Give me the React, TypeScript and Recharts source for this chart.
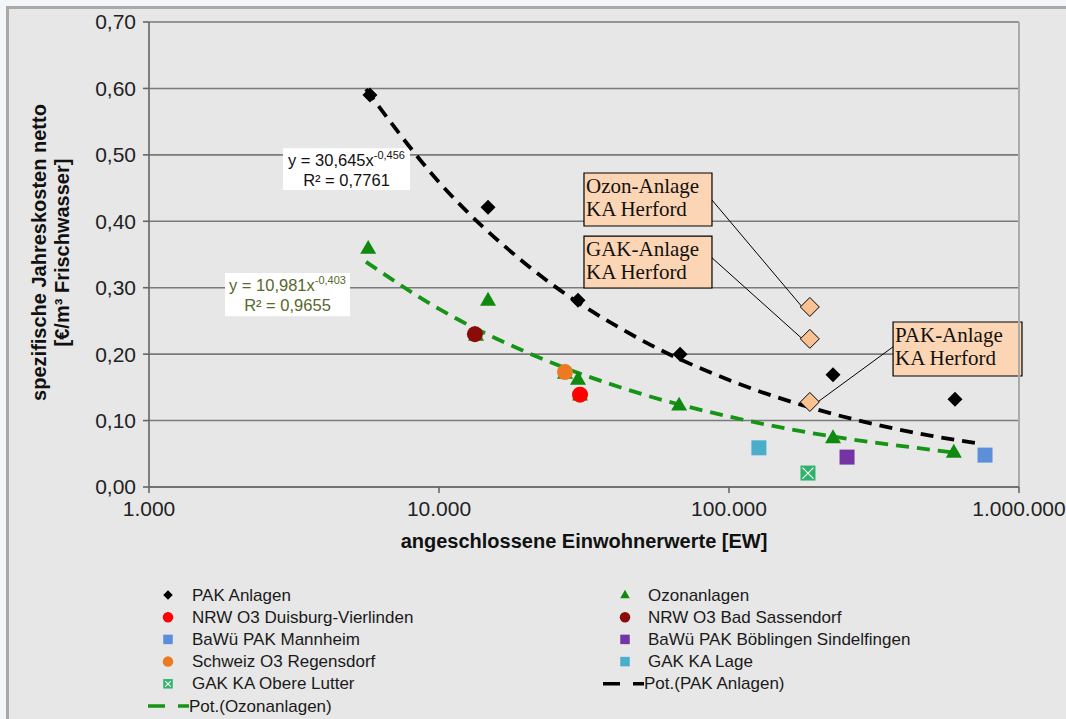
import {
  ComposedChart,
  Scatter,
  Line,
  XAxis,
  YAxis,
  CartesianGrid,
  ReferenceArea,
  ReferenceLine,
  Legend,
  Label,
} from 'recharts'

// axis ticks
const xTicks = [1000, 10000, 100000, 1000000]
const yTicks = [0, 0.1, 0.2, 0.3, 0.4, 0.5, 0.6, 0.7]

// measured plants (EW, €/m³)
const pakX = [5780, 14760, 30150, 67800, 228400, 601500]
const pakY = [0.59, 0.421, 0.281, 0.2, 0.169, 0.132]
const ozonX = [5700, 14760, 13420, 27190, 30150, 30640, 67300, 228400, 596000]
const ozonY = [0.36, 0.282, 0.229, 0.172, 0.163, 0.139, 0.124, 0.075, 0.053]
const duisburgX = [30640]
const duisburgY = [0.139]
const sassendorfX = [13300]
const sassendorfY = [0.23]
const mannheimX = [763500]
const mannheimY = [0.048]
const boeblingenX = [255300]
const boeblingenY = [0.045]
const regensdorfX = [27190]
const regensdorfY = [0.173]
const lageX = [126800]
const lageY = [0.059]
const obereLutterX = [187200]
const obereLutterY = [0.021]
const herfordX = [190000, 190000, 190000]
const herfordY = [0.271, 0.223, 0.128]

// trend curves
const pakTrendX = [5600, 10000, 20000, 50000, 100000, 200000, 500000, 716000]
const pakTrendY = [0.599, 0.459, 0.335, 0.221, 0.161, 0.117, 0.077, 0.066]
const ozonTrendX = [5600, 10000, 20000, 50000, 100000, 200000, 500000, 620000]
const ozonTrendY = [0.339, 0.268, 0.203, 0.14, 0.106, 0.08, 0.056, 0.051]

// equation labels
const pakEq = ['30,645', '-0,456', '0,7761']
const ozonEq = ['10,981', '-0,403', '0,9655']

const herfordNotes = [
  ['Ozon-Anlage', 'KA Herford'],
  ['GAK-Anlage', 'KA Herford'],
  ['PAK-Anlage', 'KA Herford'],
]

const FONT = '"Liberation Sans", Arial, sans-serif'
const SERIF = '"Liberation Serif", "Times New Roman", serif'

const pts = (xs: number[], ys: number[]) => xs.map((x, i) => ({ x, y: ys[i] }))

type Kind = 'diamond' | 'triangle' | 'circle' | 'square' | 'xsquare' | 'herford' | 'dash'

const series: { name: string; kind: Kind; color: string; data: { x: number; y: number }[] }[] = [
  { name: 'PAK Anlagen', kind: 'diamond', color: '#000000', data: pts(pakX, pakY) },
  { name: 'Ozonanlagen', kind: 'triangle', color: '#0f8a0f', data: pts(ozonX, ozonY) },
  { name: 'NRW O3 Duisburg-Vierlinden', kind: 'circle', color: '#ff0000', data: pts(duisburgX, duisburgY) },
  { name: 'NRW O3 Bad Sassendorf', kind: 'circle', color: '#8b0a0a', data: pts(sassendorfX, sassendorfY) },
  { name: 'BaWü PAK Mannheim', kind: 'square', color: '#5b8fd9', data: pts(mannheimX, mannheimY) },
  { name: 'BaWü PAK Böblingen Sindelfingen', kind: 'square', color: '#7434a6', data: pts(boeblingenX, boeblingenY) },
  { name: 'Schweiz O3 Regensdorf', kind: 'circle', color: '#ec7a22', data: pts(regensdorfX, regensdorfY) },
  { name: 'GAK KA Lage', kind: 'square', color: '#4aaecb', data: pts(lageX, lageY) },
  { name: 'GAK KA Obere Lutter', kind: 'xsquare', color: '#2fb36c', data: pts(obereLutterX, obereLutterY) },
]

const trends = [
  { name: 'Pot.(PAK Anlagen)', color: '#000000', data: pts(pakTrendX, pakTrendY) },
  { name: 'Pot.(Ozonanlagen)', color: '#169416', data: pts(ozonTrendX, ozonTrendY) },
]

function Marker({ cx, cy, kind, color, size }: { cx: number; cy: number; kind: Kind; color: string; size: number }) {
  const s = size / 2
  if (kind === 'diamond' || kind === 'herford') {
    return (
      <polygon
        points={`${cx},${cy - s} ${cx + s},${cy} ${cx},${cy + s} ${cx - s},${cy}`}
        fill={color}
        stroke={kind === 'herford' ? '#000' : 'none'}
        strokeWidth={1}
      />
    )
  }
  if (kind === 'triangle') {
    const h = s * 0.87
    return <polygon points={`${cx},${cy - h - 1} ${cx + s},${cy + h - 1} ${cx - s},${cy + h - 1}`} fill={color} />
  }
  if (kind === 'circle') return <circle cx={cx} cy={cy} r={s} fill={color} />
  if (kind === 'xsquare') {
    return (
      <g>
        <rect x={cx - s} y={cy - s} width={size} height={size} fill={color} />
        <path
          d={`M${cx - s + 2},${cy - s + 2}L${cx + s - 2},${cy + s - 2}M${cx + s - 2},${cy - s + 2}L${cx - s + 2},${cy + s - 2}`}
          stroke="#ffffff"
          strokeWidth={1.2}
        />
      </g>
    )
  }
  return <rect x={cx - s} y={cy - s} width={size} height={size} fill={color} />
}

const fmtX = (v: number) => String(Math.round(v)).replace(/\B(?=(\d{3})+(?!\d))/g, '.')
const fmtY = (v: number) => v.toFixed(2).replace('.', ',')

function EqText(props: any) {
  const { viewBox, eq, color } = props
  const cx = viewBox.x + viewBox.width / 2
  return (
    <g>
      <text x={cx} y={viewBox.y + 18} textAnchor="middle" fontSize={16.5} fontFamily={FONT} fill={color}>
        y = {eq[0]}x
        <tspan fontSize={11} dy={-7}>
          {eq[1]}
        </tspan>
      </text>
      <text x={cx} y={viewBox.y + 38} textAnchor="middle" fontSize={16.5} fontFamily={FONT} fill={color}>
        R² = {eq[2]}
      </text>
    </g>
  )
}

function NoteText(props: any) {
  const { viewBox, lines } = props
  return (
    <text fontSize={21} fontFamily={SERIF} fill="#111">
      {lines.map((l: string, i: number) => (
        <tspan key={i} x={viewBox.x + 2} y={viewBox.y + 20 + i * 23}>
          {l}
        </tspan>
      ))}
    </text>
  )
}

function YTitle(props: any) {
  const { viewBox } = props
  const cy = viewBox.y + viewBox.height / 2 - 2
  const x1 = 39
  const x2 = 62
  return (
    <g fontFamily={FONT} fontWeight="bold" fontSize={20} fill="#111">
      <text x={x1} y={cy} textAnchor="middle" dominantBaseline="central" transform={`rotate(-90 ${x1} ${cy})`}>
        spezifische Jahreskosten netto
      </text>
      <text x={x2} y={cy} textAnchor="middle" dominantBaseline="central" transform={`rotate(-90 ${x2} ${cy})`}>
        [€/m³ Frischwasser]
      </text>
    </g>
  )
}

function XTitle(props: any) {
  const { viewBox } = props
  return (
    <text
      x={viewBox.x + viewBox.width / 2}
      y={viewBox.y + 61}
      textAnchor="middle"
      fontFamily={FONT}
      fontWeight="bold"
      fontSize={20}
      fill="#111"
    >
      angeschlossene Einwohnerwerte [EW]
    </text>
  )
}

function LegendBox() {
  const entries = [
    ...series.map((s) => ({ name: s.name, kind: s.kind, color: s.color })),
    ...trends.map((t) => ({ name: t.name, kind: 'dash' as Kind, color: t.color })),
  ]
  return (
    <svg width={1066} height={145} style={{ display: 'block' }}>
      {entries.map((e, i) => {
        const col = i % 2
        const row = Math.floor(i / 2)
        const y = 25 + row * 22.2
        const mx = col === 0 ? 168 : 625
        const tx = col === 0 ? 192 : 648
        if (e.kind === 'dash') {
          const x0 = col === 0 ? 148 : 603
          return (
            <g key={e.name}>
              <line x1={x0} x2={x0 + 41} y1={y} y2={y} stroke={e.color} strokeWidth={3.5} strokeDasharray="17 13" />
              <text x={x0 + 41} y={y} dominantBaseline="central" fontSize={17} fontFamily={FONT} fill="#1a1a1a">
                {e.name}
              </text>
            </g>
          )
        }
        return (
          <g key={e.name}>
            <Marker cx={mx} cy={y} kind={e.kind} color={e.color} size={e.kind === 'circle' ? 10.5 : 9.5} />
            <text x={tx} y={y} dominantBaseline="central" fontSize={17} fontFamily={FONT} fill="#1a1a1a">
              {e.name}
            </text>
          </g>
        )
      })}
    </svg>
  )
}

export default function App() {
  const tickStyle = { fontSize: 21, fontFamily: FONT, fill: '#222' }
  return (
    <div style={{ position: 'absolute', left: 0, top: 0, width: 1066, height: 719, background: '#f3f6f8' }}>
      <div
        style={{
          position: 'absolute',
          left: 6,
          top: 6,
          width: 1060,
          height: 713,
          background: '#e7e7e7',
          borderLeft: '3px solid #a9a9a9',
          borderTop: '3px solid #a9a9a9',
          boxSizing: 'border-box',
        }}
      />
      <div style={{ position: 'absolute', left: 0, top: 0 }}>
        <ComposedChart width={1066} height={719} margin={{ top: 22, right: 47, left: 89, bottom: 192 }}>
          <CartesianGrid vertical={false} stroke="#7a7a7a" strokeWidth={1.6} />
          <XAxis
            dataKey="x"
            type="number"
            scale="log"
            domain={[1000, 1000000]}
            ticks={xTicks}
            allowDataOverflow
            tickFormatter={fmtX}
            height={40}
            tick={tickStyle}
            tickSize={6}
            tickMargin={8}
            axisLine={{ stroke: '#666', strokeWidth: 1.6 }}
            tickLine={{ stroke: '#666', strokeWidth: 1.6 }}
          >
            <Label content={<XTitle />} />
          </XAxis>
          <YAxis
            dataKey="y"
            type="number"
            domain={[0, 0.7]}
            ticks={yTicks}
            allowDataOverflow
            tickFormatter={fmtY}
            width={60}
            tick={tickStyle}
            tickSize={6}
            tickMargin={7}
            axisLine={{ stroke: '#666', strokeWidth: 1.6 }}
            tickLine={{ stroke: '#666', strokeWidth: 1.6 }}
          >
            <Label content={<YTitle />} />
          </YAxis>
          <ReferenceLine x={1000000} stroke="#ababab" strokeWidth={2} ifOverflow="visible" />

          {series.map((s) => (
            <Scatter
              key={s.name}
              name={s.name}
              data={s.data}
              isAnimationActive={false}
              shape={(p: any) => (
                <Marker
                  cx={p.cx}
                  cy={p.cy}
                  kind={s.kind}
                  color={s.color}
                  size={s.kind === 'circle' ? 16 : s.kind === 'triangle' ? 16 : 15}
                />
              )}
            />
          ))}

          {trends.map((t) => (
            <Line
              key={t.name}
              name={t.name}
              data={t.data}
              dataKey="y"
              type="monotone"
              stroke={t.color}
              strokeWidth={3.8}
              strokeDasharray="13 8"
              dot={false}
              activeDot={false}
              isAnimationActive={false}
            />
          ))}

          <ReferenceArea
            x1={2897}
            x2={7943}
            y1={0.447}
            y2={0.51}
            fill="#ffffff"
            fillOpacity={1}
            stroke="none"
            ifOverflow="visible"
            label={<EqText eq={pakEq} color="#111111" />}
          />
          <ReferenceArea
            x1={1828}
            x2={4932}
            y1={0.257}
            y2={0.322}
            fill="#ffffff"
            fillOpacity={1}
            stroke="none"
            ifOverflow="visible"
            label={<EqText eq={ozonEq} color="#56682c" />}
          />

          <ReferenceLine segment={[{ x: 87360, y: 0.432 }, { x: 178000, y: 0.272 }]} stroke="#000" strokeWidth={1} ifOverflow="visible" />
          <ReferenceLine segment={[{ x: 87360, y: 0.345 }, { x: 178000, y: 0.224 }]} stroke="#000" strokeWidth={1} ifOverflow="visible" />
          <ReferenceLine segment={[{ x: 367900, y: 0.211 }, { x: 198000, y: 0.125 }]} stroke="#000" strokeWidth={1} ifOverflow="visible" />

          <ReferenceArea
            x1={31620}
            x2={87360}
            y1={0.3929}
            y2={0.4727}
            fill="#fcd5b4"
            fillOpacity={1}
            stroke="#000"
            strokeWidth={1.2}
            ifOverflow="visible"
            label={<NoteText lines={herfordNotes[0]} />}
          />
          <ReferenceArea
            x1={31620}
            x2={87360}
            y1={0.2996}
            y2={0.3778}
            fill="#fcd5b4"
            fillOpacity={1}
            stroke="#000"
            strokeWidth={1.2}
            ifOverflow="visible"
            label={<NoteText lines={herfordNotes[1]} />}
          />
          <ReferenceArea
            x1={367900}
            x2={1024000}
            y1={0.1671}
            y2={0.2484}
            fill="#fcd5b4"
            fillOpacity={1}
            stroke="#000"
            strokeWidth={1.2}
            ifOverflow="visible"
            label={<NoteText lines={herfordNotes[2]} />}
          />

          <Scatter
            name="Herford"
            data={pts(herfordX, herfordY)}
            legendType="none"
            isAnimationActive={false}
            shape={(p: any) => <Marker cx={p.cx} cy={p.cy} kind="herford" color="#fac192" size={19} />}
          />

          <Legend
            layout="horizontal"
            verticalAlign="middle"
            align="center"
            width={1066}
            height={145}
            wrapperStyle={{ top: 570, left: 0 }}
            content={() => <LegendBox />}
          />
        </ComposedChart>
      </div>
    </div>
  )
}
